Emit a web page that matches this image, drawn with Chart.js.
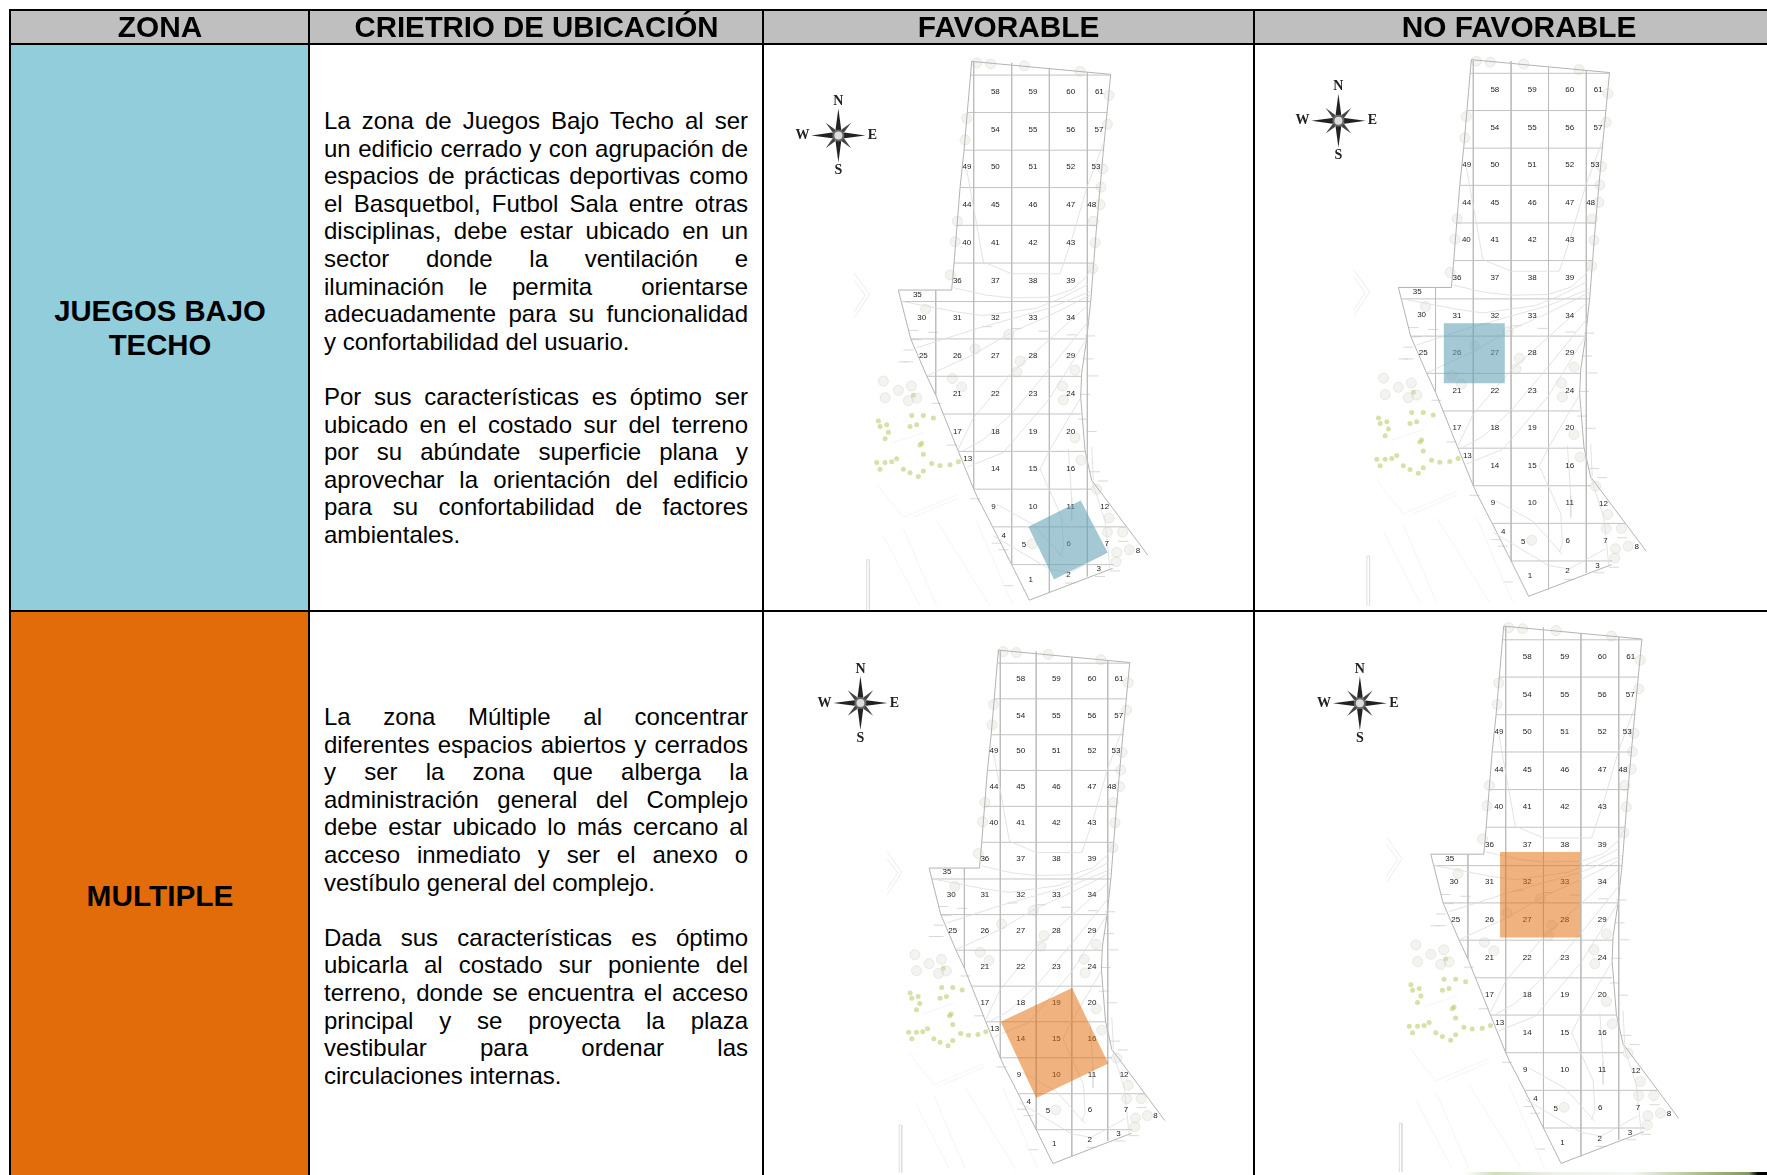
<!DOCTYPE html>
<html lang="es">
<head>
<meta charset="utf-8">
<title>Criterio de ubicación</title>
<script src="https://cdn.jsdelivr.net/npm/chart.js@4/dist/chart.umd.min.js"></script>
<style>
html, body { margin: 0; padding: 0; width: 1767px; height: 1175px; overflow: hidden; background: #fff; }
body { position: relative; font-family: "Liberation Sans", Arial, sans-serif; color: #000; }
.block, .rule, .head, .zone, .line { position: absolute; }
.head, .zone { font-weight: bold; font-size: 29.8px; line-height: 34px; text-align: center; white-space: nowrap; transform: translateX(-50%); }
.line { left: 324px; width: 424px; font-size: 24px; line-height: 27.6px; height: 27.6px; text-align: justify; text-align-last: justify; white-space: normal; overflow: hidden; }
.line.last { text-align-last: left; }
canvas.plan { position: absolute; filter: blur(0.7px); }
</style>
</head>
<body>
<script>
// table text
var headers = ["ZONA", "CRIETRIO DE UBICACIÓN", "FAVORABLE", "NO FAVORABLE"];
var headerCenters = [160, 536.5, 1008.6, 1519];
var headerSizes = [29.8, 29.4, 29.8, 29.8];
var zoneNames = [["JUEGOS BAJO", "TECHO"], ["MULTIPLE"]];
var zoneTops = [294, 879];
var zoneSizes = [29.3, 29.8];
var zoneColors = ["#92cddc", "#e36c0a"];
var criteria = [
    ["La zona de Juegos Bajo Techo al ser", "un edificio cerrado y con agrupación de", "espacios de prácticas deportivas como", "el Basquetbol, Futbol Sala entre otras", "disciplinas, debe estar ubicado en un", "sector donde la ventilación e", "iluminación le permita\u00a0 orientarse", "adecuadamente para su funcionalidad", "y confortabilidad del usuario.*", "",
     "Por sus características es óptimo ser", "ubicado en el costado sur del terreno", "por su abúndate superficie plana y", "aprovechar la orientación del edificio", "para su confortabilidad de factores", "ambientales.*"],
    ["La zona Múltiple al concentrar", "diferentes espacios abiertos y cerrados", "y ser la zona que alberga la", "administración general del Complejo", "debe estar ubicado lo más cercano al", "acceso inmediato y ser el anexo o", "vestíbulo general del complejo.*", "",
     "Dada sus características es óptimo", "ubicarla al costado sur poniente del", "terreno, donde se encuentra el acceso", "principal y se proyecta la plaza", "vestibular para ordenar las", "circulaciones internas.*"]
];
var criteriaTops = [107, 703];

// plot numbers of the site plan
var plotLabels = ["58","59","60","61","54","55","56","57","49","50","51","52","53","44","45","46","47","48","40","41","42","43","36","37","38","39","35","30","31","32","33","34","25","26","27","28","29","21","22","23","24","17","18","19","20","13","14","15","16","9","10","11","12","4","5","6","7","8","1","2","3"];
var plotX = [676,789,902,988,676,789,902,987,591,676,789,902,978,591,676,789,902,965,590,676,789,902,562,676,789,902,442,455,562,676,789,902,460,562,676,789,902,562,676,789,902,562,676,789,902,593,676,789,902,670,789,902,1004,701,762,896,1010,1104,782,895,986];
var plotY = [140,140,140,140,243,243,243,243,344,344,344,344,344,446,446,446,446,446,548,548,548,548,650,650,650,650,688,751,752,752,752,752,854,854,854,854,854,956,956,956,956,1058,1058,1058,1058,1132,1160,1160,1160,1261,1261,1261,1263,1340,1365,1363,1363,1380,1458,1446,1430];

// site boundary
var boundaryX = [605,1022,1000,990,980,962,950,935,932,945,965,1070,1133];
var boundaryY = [58,93,300,400,500,707,808,900,965,1110,1190,1316,1392];
var boundaryWestX = [605,582,570,552,545,385,422,470,497,565,611,622,668,725,778,1028];
var boundaryWestY = [58,298,400,603,676,676,808,908,960,1112,1214,1236,1316,1418,1514,1428];

// grid rows and columns
var rowY = [95,196,298,399,501,603,707,808,909,1011,1112,1214,1316,1418];
var rowFrom = [603,592,582,571,560,552,392,422,470,518,565,611,668,725];
var rowTo = [1020,1012,1003,992,982,972,962,950,935,932,945,965,1070,1030];
var colX = [497,611,725,838,952];
var colFrom = [676,60,62,78,88];
var colTo = [960,1214,1418,1495,1450];

// contour lines
var contours = [
    [[590,350],[610,450],[640,600],[725,632],[870,632],[905,540],[950,400],[1000,280]],
    [[552,670],[650,690],[725,697],[838,695],[905,675],[950,640],[972,603]],
    [[392,706],[560,735],[640,745],[800,725],[880,695],[955,660]],
    [[440,832],[620,780],[838,725],[960,680]],
    [[470,908],[611,850],[725,790],[838,745],[960,690]],
    [[565,1105],[611,1020],[725,900],[838,810],[950,720]],
    [[580,1110],[640,1080],[725,1010],[838,890],[955,760]],
    [[590,1155],[700,1115],[838,970],[950,808]],
    [[875,1290],[810,1160],[838,1110],[930,970]],
    [[875,1290],[880,1370],[870,1395]],
    [[895,1105],[905,1240],[905,1300]],
    [[680,1255],[790,1310],[880,1400]],
    [[670,1340],[838,1430],[900,1440],[1010,1385]],
    [[965,1100],[970,1190]],
    [[965,1190],[1005,1300],[1020,1430]]
];

// faint surroundings
var faintLines = [
    [[365,1090],[465,1060]],
    [[430,1290],[560,1240]],
    [[320,1200],[400,1290],[560,1230]],
    [[400,1320],[500,1530]],
    [[340,1340],[450,1530]],
    [[620,1300],[730,1530]],
    [[500,1300],[660,1530]]
];
var chevronOuter = [[252,630],[298,688],[252,752]];
var chevronInner = [[252,650],[285,690],[252,735]];
var scaleBar = [[290,1540],[290,1405],[298,1405],[298,1540]];

// trees, shrubs and small notes
var treeX = [620,662,763,930,1017,1012,590,585,998,993,990,970,562,555,975,968,541,467,716,615,750,740,915,547,575,877,880,340,345,385,424,415,440,915,933,980,1017,1012,1058,1040,1078,1038,787];
var treeY = [62,65,70,85,150,228,212,270,348,398,445,490,490,545,548,618,635,728,796,835,868,897,892,915,938,935,973,922,967,947,935,975,968,1075,1136,1215,1292,1330,1330,1385,1378,1410,1362];
var shrubX = [325,330,350,355,345,430,425,460,490,440,420,450,460,320,345,365,380,400,420,445,460,485,510,540,565,330,455];
var shrubY = [1030,1045,1040,1060,1078,960,1015,1015,1022,1040,1045,1095,1120,1142,1142,1140,1132,1160,1170,1180,1165,1145,1150,1148,1140,1160,1090];
var noteX = [430,440,415,415,490,650,740,820,905,960,955,970,945,940,965,975,1000,615,680,700,715,900,990,1060,500,545,400,1035];
var noteY = [785,810,838,870,790,775,780,787,797,800,862,908,958,1025,1058,1167,1192,1240,1360,1378,1475,1468,1450,1355,982,1095,870,1435];

// the four plans: compass point and highlighted zone, in plan units
var compassX = [205, 204, 167, 171];
var compassY = [258, 224, 208, 267];
var highlightAreas = [
    [[775,1316],[932,1245],[1013,1385],[852,1458]],
    [[522,773],[706,773],[706,936],[522,936]],
    [[839,1016],[954,1230],[725,1328],[612,1112]],
    [[594,670],[836,670],[836,902],[594,902]]
];
var highlightColors = ["rgba(98,162,182,0.58)", "rgba(98,162,182,0.58)", "rgba(226,108,10,0.52)", "rgba(226,108,10,0.52)"];

// canvas box of each cell, and where plan unit (611,95) lands with its px per unit
var cellBoxes = [[765,45,488,565], [1255,45,512,565], [765,612,488,563], [1255,612,512,560]];
var planOrigins = [[973.7,75.1], [1473.3,73.3], [1000.3,663.2], [1505.7,639.8]];
var planScales = [[0.3333,0.37], [0.3314,0.3686], [0.315,0.3526], [0.3314,0.369]];

function addBlock(x, y, w, h, color) {
    var d = document.createElement("div");
    d.className = "block";
    d.style.cssText = "left:" + x + "px;top:" + y + "px;width:" + w + "px;height:" + h + "px;background:" + color;
    document.body.appendChild(d);
    return d;
}

function addText(cls, text, styleText) {
    var d = document.createElement("div");
    d.className = cls;
    d.textContent = text;
    d.style.cssText = styleText;
    document.body.appendChild(d);
}

function points(list) {
    return list.map(function (p) { return { x: p[0], y: p[1] }; });
}

function lineSet(list, color, width) {
    return { data: points(list), showLine: true, borderColor: color, borderWidth: width, pointRadius: 0, tension: 0, order: 3 };
}

// cell backgrounds and rules
addBlock(10, 10, 1757, 34, "#bfbfbf");
addBlock(10, 44, 299, 567, zoneColors[0]);
addBlock(10, 611, 299, 564, zoneColors[1]);

// plot numbers and compass are drawn on the points the scales have placed
var planText = {
    id: "planText",
    afterDatasetDraw: function (chart, args) {
        var ds = chart.data.datasets[args.index];
        var ctx = chart.ctx;
        var meta = chart.getDatasetMeta(args.index);
        if (ds.plotLabels) {
            ctx.save();
            ctx.font = "8px 'Liberation Sans'";
            ctx.fillStyle = "#222";
            ctx.textAlign = "center";
            ctx.textBaseline = "middle";
            meta.data.forEach(function (el, i) {
                ctx.fillText(ds.plotLabels[i], el.x, el.y);
            });
            ctx.restore();
        }
        if (ds.compass) {
            drawCompass(ctx, meta.data[0].x, meta.data[0].y);
        }
    }
};

function drawCompass(ctx, x, y) {
    var k;
    ctx.save();
    ctx.translate(x, y);
    for (k = 0; k < 8; k++) {
        var len = k % 2 === 0 ? 27 : 18;
        var half = k % 2 === 0 ? 2.8 : 1.9;
        ctx.save();
        ctx.rotate(k * Math.PI / 4);
        ctx.fillStyle = k % 2 === 0 ? "#222" : "#444";
        ctx.beginPath();
        ctx.moveTo(0, -len);
        ctx.lineTo(half, -6);
        ctx.lineTo(0, -3);
        ctx.lineTo(-half, -6);
        ctx.closePath();
        ctx.fill();
        ctx.restore();
    }
    ctx.beginPath();
    ctx.arc(0, 0, 6, 0, Math.PI * 2);
    ctx.fillStyle = "#666";
    ctx.fill();
    ctx.beginPath();
    ctx.arc(0, 0, 4, 0, Math.PI * 2);
    ctx.fillStyle = "#ddd";
    ctx.fill();
    ctx.font = "bold 14px 'Liberation Serif'";
    ctx.fillStyle = "#222";
    ctx.textAlign = "center";
    ctx.textBaseline = "middle";
    ctx.fillText("N", 0, -34);
    ctx.fillText("S", 0, 35);
    ctx.fillText("W", -36, 0);
    ctx.fillText("E", 34, 0);
    ctx.restore();
}

function drawPlan(n) {
    var box = cellBoxes[n];
    var origin = planOrigins[n];
    var scale = planScales[n];
    var canvas = document.createElement("canvas");
    canvas.className = "plan";
    canvas.width = box[2];
    canvas.height = box[3];
    canvas.style.left = box[0] + "px";
    canvas.style.top = box[1] + "px";
    canvas.style.width = box[2] + "px";
    canvas.style.height = box[3] + "px";
    document.body.appendChild(canvas);

    var datasets = [];
    faintLines.forEach(function (l) { datasets.push(lineSet(l, "#f5f5f5", 1)); });
    datasets.push(lineSet(chevronOuter, "#ececec", 1));
    datasets.push(lineSet(chevronInner, "#ececec", 1));
    datasets.push(lineSet(scaleBar, "#dedede", 1));
    contours.forEach(function (l) { datasets.push(lineSet(l, "#dcdcdc", 0.8)); });
    rowY.forEach(function (y, i) { datasets.push(lineSet([[rowFrom[i], y], [rowTo[i], y]], "#bcbcbc", 0.9)); });
    colX.forEach(function (x, i) { datasets.push(lineSet([[x, colFrom[i]], [x, colTo[i]]], "#bcbcbc", 0.9)); });
    datasets.push(lineSet(boundaryX.map(function (x, i) { return [x, boundaryY[i]]; }), "#aaaaaa", 0.9));
    datasets.push(lineSet(boundaryWestX.map(function (x, i) { return [x, boundaryWestY[i]]; }), "#aaaaaa", 0.9));
    datasets.push({
        data: treeX.map(function (x, i) { return { x: x, y: treeY[i] }; }),
        pointRadius: 5,
        backgroundColor: "rgba(215,218,205,0.3)",
        borderColor: "rgba(205,208,195,0.4)",
        borderWidth: 1,
        order: 3
    });
    datasets.push({
        data: shrubX.map(function (x, i) { return { x: x, y: shrubY[i] }; }),
        pointRadius: 2.5,
        backgroundColor: "rgba(185,205,110,0.6)",
        borderWidth: 0,
        order: 3
    });
    datasets.push({
        data: noteX.map(function (x, i) { return { x: x, y: noteY[i] }; }),
        pointStyle: "line",
        pointRadius: 5,
        borderColor: "#d8d8d8",
        borderWidth: 1,
        order: 3
    });
    datasets.push({
        data: plotX.map(function (x, i) { return { x: x, y: plotY[i] }; }),
        plotLabels: plotLabels,
        pointRadius: 0,
        order: 2
    });
    datasets.push({
        data: [{ x: compassX[n], y: compassY[n] }],
        compass: true,
        pointRadius: 0,
        order: 2
    });
    datasets.push({
        data: points(highlightAreas[n]),
        showLine: true,
        fill: "shape",
        backgroundColor: highlightColors[n],
        borderWidth: 0,
        pointRadius: 0,
        tension: 0,
        order: 1
    });

    new Chart(canvas, {
        type: "scatter",
        data: { datasets: datasets },
        plugins: [planText],
        options: {
            responsive: false,
            animation: false,
            layout: { padding: 0, autoPadding: false },
            plugins: { legend: { display: false }, tooltip: { enabled: false } },
            scales: {
                x: {
                    display: false,
                    min: 611 + (box[0] - origin[0]) / scale[0],
                    max: 611 + (box[0] + box[2] - origin[0]) / scale[0]
                },
                y: {
                    display: false,
                    reverse: true,
                    min: 95 + (box[1] - origin[1]) / scale[1],
                    max: 95 + (box[1] + box[3] - origin[1]) / scale[1]
                }
            }
        }
    });
}

[0, 1, 2, 3].forEach(drawPlan);

// borders on top of cells and plans
[9, 308, 762, 1253].forEach(function (x) { addBlock(x, 9, 2.4, 1166, "#000"); });
[9, 43, 610].forEach(function (y) { addBlock(9, y, 1758, 2.4, "#000"); });

// scrap of the next picture showing at the bottom edge
addBlock(1465, 1172, 302, 3, "linear-gradient(90deg,#fff 0%,#cfdcbc 10%,#eef2e8 30%,#f5f7f2 55%,#a9c08a 78%,#7f9a5e 94%,#000 97%,#000 100%)");

headers.forEach(function (h, i) {
    addText("head", h, "left:" + headerCenters[i] + "px;top:10px;font-size:" + headerSizes[i] + "px;");
});
zoneNames.forEach(function (lines, z) {
    lines.forEach(function (t, i) {
        addText("zone", t, "left:160px;top:" + (zoneTops[z] + i * 34) + "px;font-size:" + zoneSizes[z] + "px;");
    });
});
criteria.forEach(function (lines, r) {
    lines.forEach(function (t, i) {
        if (t === "") return;
        var last = t.charAt(t.length - 1) === "*";
        addText(last ? "line last" : "line", last ? t.slice(0, -1) : t, "top:" + (criteriaTops[r] + i * 27.6) + "px;");
    });
});
</script>
</body>
</html>
